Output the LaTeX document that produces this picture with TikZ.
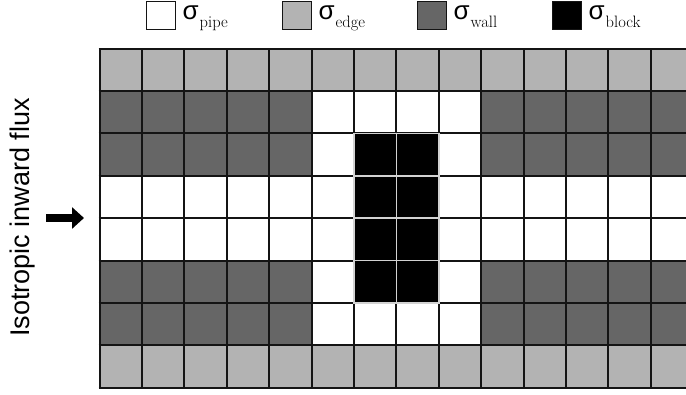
\documentclass[tikz,border=0pt]{standalone}
\usepackage{fontspec}
\newfontfamily\sansf{Liberation Sans}
\usetikzlibrary{arrows.meta}
\definecolor{edgec}{HTML}{B3B3B3}
\definecolor{wallc}{HTML}{666666}
\definecolor{linec}{HTML}{141414}
\definecolor{blockline}{HTML}{D2D2D2}
\tikzset{
  gridline/.style={draw=linec, line width=2pt},
  blockcell/.style={fill=black, draw=blockline, line width=1.6pt},
  legbox/.style={draw=linec, line width=1.4pt, minimum width=29pt, minimum height=27.5pt, inner sep=0pt, anchor=north west},
  sig/.style={font=\sansf\fontsize{26}{26}\selectfont, inner sep=0pt, anchor=base west},
  sub/.style={font=\fontsize{16.5}{16.5}\selectfont, inner sep=0pt, anchor=base west},
}
\begin{document}
\begin{tikzpicture}[x=1pt,y=-1pt]
\useasboundingbox (0,0) rectangle (686,394);
\def\GL{99.5}\def\GT{48.5}\def\cw{42.4}
% legend
\foreach \n/\x/\col/\s in {p/146/white/pipe, e/282/edgec/edge, w/417/wallc/wall, b/552/black/block}{
  \node[legbox, fill=\col] (box\n) at (\x,1) {};
  \node[sig] (sig\n) at (\x+36.5,19) {σ};
  \node[sub] (sub\n) at (\x+53.5,27.5) {\s};
}
% grid
\begin{scope}
\clip (\GL-3,\GT-3) rectangle (686,\GT+8*\cw+3);
\fill[edgec] (\GL,\GT) rectangle (\GL+15*\cw,\GT+\cw);
\fill[edgec] (\GL,\GT+7*\cw) rectangle (\GL+15*\cw,\GT+8*\cw);
\foreach \r in {1,2,5,6}{
  \fill[wallc] (\GL,\GT+\r*\cw) rectangle (\GL+5*\cw,\GT+\r*\cw+\cw);
  \fill[wallc] (\GL+9*\cw,\GT+\r*\cw) rectangle (\GL+15*\cw,\GT+\r*\cw+\cw);
}
\foreach \i in {0,...,15}{
  \draw[gridline] (\GL+\i*\cw,\GT) -- (\GL+\i*\cw,\GT+8*\cw);
}
\foreach \j in {0,...,8}{
  \draw[gridline] (\GL-1,\GT+\j*\cw) -- (\GL+15*\cw,\GT+\j*\cw);
}
\foreach \r in {2,3,4,5}{
  \foreach \i in {6,7}{
    \draw[blockcell] (\GL+\i*\cw,\GT+\r*\cw) rectangle (\GL+\i*\cw+\cw,\GT+\r*\cw+\cw);
  }
}
\end{scope}
% label and arrow
\node[font=\sansf\fontsize{27}{27}\selectfont, rotate=90, inner sep=0pt] (flux) at (23,217.5) {Isotropic inward flux};
\coordinate (arrs) at (46,218);
\coordinate (arre) at (84,218);
\draw[line width=8pt, -{Triangle[length=12pt,width=21pt]}] (arrs) -- (arre);
\end{tikzpicture}
\end{document}
